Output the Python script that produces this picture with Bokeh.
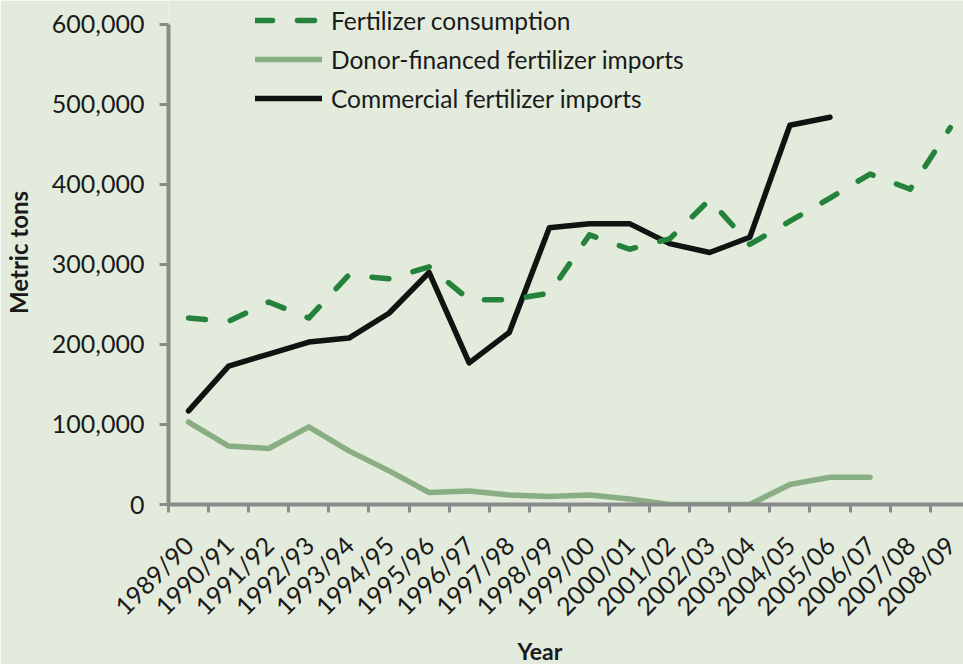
from bokeh.plotting import figure
from bokeh.models import (Range1d, FixedTicker, NumeralTickFormatter, Legend, LegendItem, Title)
from bokeh.embed import file_html
from bokeh.resources import INLINE
import math

years = ["1989/90", "1990/91", "1991/92", "1992/93", "1993/94", "1994/95", "1995/96",
         "1996/97", "1997/98", "1998/99", "1999/00", "2000/01", "2001/02", "2002/03",
         "2003/04", "2004/05", "2005/06", "2006/07", "2007/08", "2008/09"]

consumption = [233000, 229000, 253000, 233000, 287000, 282000, 297000, 256000, 256000, 264000,
               337000, 319000, 332000, 381000, 325000, 354000, 383000, 413000, 394000, 471000]
donor = [103000, 73000, 70000, 97000, 67000, 42000, 15000, 17000, 12000, 10000,
         12000, 7000, 0, 0, 0, 25000, 34000, 34000]
commercial = [117000, 173000, 188000, 203000, 208000, 239000, 290000, 177000, 215000, 346000,
              351000, 351000, 326000, 315000, 334000, 474000, 484000]

y_ticks = [0, 100000, 200000, 300000, 400000, 500000, 600000]
y_max = 600000

BG = "#E2EBDC"
TXT = "#1A1A1A"
AXIS = "#8A8C8C"
FONT = "Lato"

# frame spans from the canvas top (0 px) to 506 px; 600,000 sits at 24 px
FRAME_H = 506
AXIS_H = 482
y_top = y_max * FRAME_H / AXIS_H

p = figure(width=963, height=664, output_backend="svg", toolbar_location=None,
           x_range=Range1d(-0.5, 19.33), y_range=Range1d(0, y_top),
           min_border_left=168, min_border_right=0, min_border_top=0, min_border_bottom=158)
p.background_fill_color = BG
p.border_fill_color = BG
p.outline_line_color = None
p.grid.visible = False

idx = list(range(len(years)))

r_com = p.line(list(range(len(commercial))), commercial, line_color="#111311", line_width=5.5,
               line_join="round", line_cap="round")
r_don = p.line(list(range(len(donor))), donor, line_color="#8AAE83", line_width=5.5,
               line_join="round", line_cap="round")
r_con = p.line(idx, consumption, line_color="#24823C", line_width=5.5, line_dash="17 25",
               line_join="round", line_cap="round")

# axes
xa = p.xaxis[0]
xa.ticker = FixedTicker(ticks=idx, minor_ticks=[i - 0.5 for i in idx])
xa.major_label_overrides = {i: y for i, y in enumerate(years)}
xa.major_label_orientation = math.pi / 4
xa.major_tick_line_color = None
xa.major_tick_out = 0
xa.major_tick_in = 0
xa.minor_tick_out = 8
xa.minor_tick_in = 0
xa.minor_tick_line_color = AXIS
xa.minor_tick_line_width = 3
xa.axis_line_color = AXIS
xa.axis_line_width = 4
xa.major_label_text_font = FONT
xa.major_label_text_font_size = "25px"
xa.major_label_text_color = TXT
xa.major_label_standoff = 28

ya = p.yaxis[0]
ya.ticker = FixedTicker(ticks=y_ticks)
ya.formatter = NumeralTickFormatter(format="0,0")
ya.bounds = (0, y_max)
ya.minor_tick_line_color = None
ya.major_tick_out = 9
ya.major_tick_in = 0
ya.major_tick_line_color = AXIS
ya.major_tick_line_width = 3
ya.axis_line_color = AXIS
ya.axis_line_width = 4
ya.major_label_text_font = FONT
ya.major_label_text_font_size = "25px"
ya.major_label_text_color = TXT
ya.major_label_standoff = 15
ya.axis_label = "Metric tons"
ya.axis_label_text_font = FONT
ya.axis_label_text_font_style = "bold"
ya.axis_label_text_font_size = "24px"
ya.axis_label_text_color = TXT
ya.axis_label_standoff = 16

year_title = Title(text="Year", align="left", offset=349, standoff=0,
                   text_font=FONT, text_font_style="bold", text_font_size="23px",
                   text_color=TXT)
p.add_layout(year_title, "below")

legend = Legend(items=[LegendItem(label="Fertilizer consumption", renderers=[r_con]),
                       LegendItem(label="Donor-financed fertilizer imports", renderers=[r_don]),
                       LegendItem(label="Commercial fertilizer imports", renderers=[r_com])],
                location=(87, 391), padding=0, margin=0, spacing=9,
                glyph_width=67, glyph_height=30, label_height=30, label_standoff=9,
                label_text_font=FONT, label_text_font_size="24.5px", label_text_color=TXT,
                background_fill_alpha=0, border_line_color=None)
p.add_layout(legend)

open("out.html", "w").write(file_html(p, INLINE))
